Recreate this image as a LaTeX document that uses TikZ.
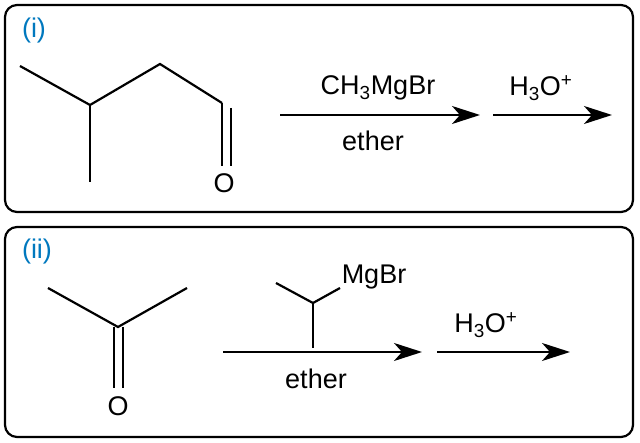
\documentclass[tikz,border=0pt]{standalone}
\usepackage{fontspec}
\setmainfont{Liberation Sans}
\usetikzlibrary{arrows.meta}
\definecolor{lblue}{RGB}{0,120,190}
\tikzset{
  bond/.style={line width=2.2pt},
  rxn/.style={line width=2.2pt,-{Stealth[length=28pt,width=18pt,inset=8pt]}},
  panel/.style={line width=2.2pt,rounded corners=12pt},
  txt/.style={font=\fontsize{27}{30}\selectfont},
  tag/.style={txt,text=lblue}
}
\begin{document}
\begin{tikzpicture}[x=1pt,y=-1pt]
  \useasboundingbox (0,0) rectangle (640,443);
  % panel (i)
  \draw[panel] (5,5) rectangle (633,212);
  \node[tag] (ti) at (34,31) {(i)};
  \draw[bond] (20,66)--(90,105)--(160,64)--(222,103);
  \draw[bond] (90,105)--(90,182);
  \draw[bond] (222,103)--(222,166);
  \draw[bond] (231,108)--(231,166);
  \node[txt] (o1) at (224,183) {O};
  \coordinate (a1s) at (280,115);
  \coordinate (a1e) at (480,115);
  \coordinate (a2s) at (493,115);
  \coordinate (a2e) at (612,115);
  \draw[rxn] (a1s)--(a1e);
  \draw[rxn] (a2s)--(a2e);
  \node[txt] (r1) at (378,88) {CH\textsubscript{3}MgBr};
  \node[txt] (s1) at (373,141) {ether};
  \node[txt] (h1) at (541,88) {H\textsubscript{3}O\textsuperscript{+}};
  % panel (ii)
  \draw[panel] (5,227) rectangle (633,437);
  \node[tag] (tii) at (37,252) {(ii)};
  \draw[bond] (48,288)--(118,327)--(187,288);
  \draw[bond] (114,327)--(114,388);
  \draw[bond] (123,327)--(123,388);
  \node[txt] (o2) at (118,406) {O};
  \draw[bond] (276,283)--(313,303)--(340,288);
  \draw[bond] (313,303)--(313,348);
  \node[txt] (mg) at (374,277) {MgBr};
  \coordinate (b1s) at (223,352);
  \coordinate (b1e) at (422,352);
  \coordinate (b2s) at (437,352);
  \coordinate (b2e) at (570,352);
  \draw[rxn] (b1s)--(b1e);
  \draw[rxn] (b2s)--(b2e);
  \node[txt] (s2) at (316,379) {ether};
  \node[txt] (h2) at (486,325) {H\textsubscript{3}O\textsuperscript{+}};
\end{tikzpicture}
\end{document}
